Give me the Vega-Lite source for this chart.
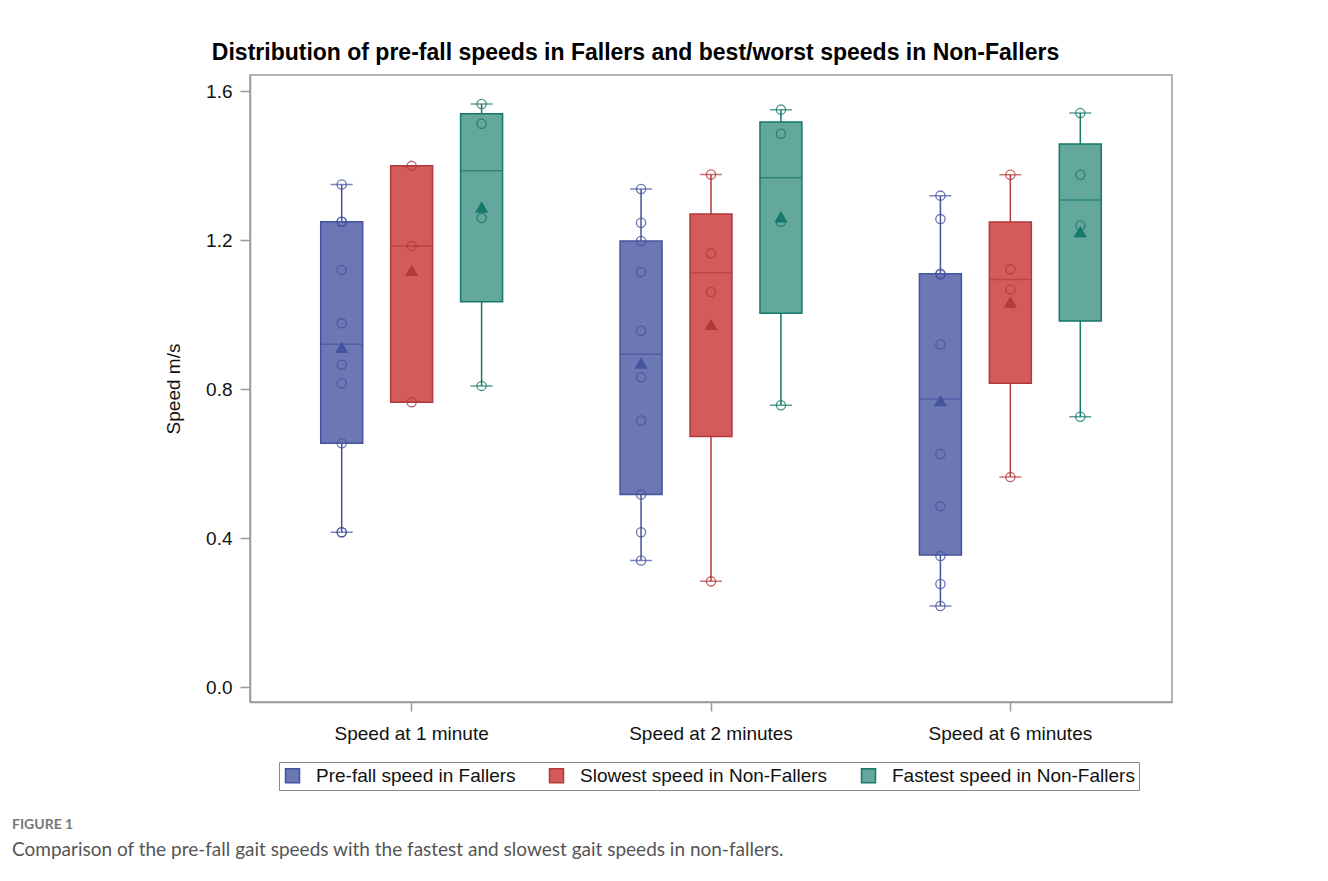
{
  "$schema": "https://vega.github.io/schema/vega-lite/v6.json",
  "width": 922,
  "height": 627,
  "autosize": {"type": "none"},
  "padding": {"left": 250, "top": 75, "right": 156, "bottom": 179},
  "background": "white",
  "title": {
    "text": "FIGURE 1",
    "subtitle": "Comparison of the pre-fall gait speeds with the fastest and slowest gait speeds in non-fallers.",
    "orient": "bottom",
    "anchor": "start",
    "frame": "group",
    "dx": -238,
    "offset": 27,
    "font": "Lato",
    "fontSize": 14,
    "fontWeight": "bold",
    "color": "#777777",
    "subtitleFont": "Lato",
    "subtitleFontSize": 19,
    "subtitleColor": "#555555",
    "subtitlePadding": 9
  },
  "datasets": {
    "boxes": [
      {"time": "Speed at 1 minute", "group": "Pre-fall speed in Fallers", "min": 0.416, "q1": 0.655, "median": 0.921, "q3": 1.25, "max": 1.35, "mean": 0.91},
      {"time": "Speed at 1 minute", "group": "Slowest speed in Non-Fallers", "min": 0.765, "q1": 0.765, "median": 1.185, "q3": 1.4, "max": 1.4, "mean": 1.117},
      {"time": "Speed at 1 minute", "group": "Fastest speed in Non-Fallers", "min": 0.809, "q1": 1.035, "median": 1.387, "q3": 1.54, "max": 1.566, "mean": 1.287},
      {"time": "Speed at 2 minutes", "group": "Pre-fall speed in Fallers", "min": 0.34, "q1": 0.517, "median": 0.894, "q3": 1.198, "max": 1.338, "mean": 0.868},
      {"time": "Speed at 2 minutes", "group": "Slowest speed in Non-Fallers", "min": 0.284, "q1": 0.673, "median": 1.113, "q3": 1.271, "max": 1.377, "mean": 0.972},
      {"time": "Speed at 2 minutes", "group": "Fastest speed in Non-Fallers", "min": 0.757, "q1": 1.004, "median": 1.368, "q3": 1.518, "max": 1.551, "mean": 1.261},
      {"time": "Speed at 6 minutes", "group": "Pre-fall speed in Fallers", "min": 0.218, "q1": 0.355, "median": 0.774, "q3": 1.11, "max": 1.32, "mean": 0.767},
      {"time": "Speed at 6 minutes", "group": "Slowest speed in Non-Fallers", "min": 0.564, "q1": 0.816, "median": 1.095, "q3": 1.249, "max": 1.376, "mean": 1.032},
      {"time": "Speed at 6 minutes", "group": "Fastest speed in Non-Fallers", "min": 0.726, "q1": 0.983, "median": 1.308, "q3": 1.459, "max": 1.542, "mean": 1.221}
    ],
    "obs": [
      {"time": "Speed at 1 minute", "group": "Pre-fall speed in Fallers", "speed": 1.35},
      {"time": "Speed at 1 minute", "group": "Pre-fall speed in Fallers", "speed": 1.25},
      {"time": "Speed at 1 minute", "group": "Pre-fall speed in Fallers", "speed": 1.25},
      {"time": "Speed at 1 minute", "group": "Pre-fall speed in Fallers", "speed": 1.12},
      {"time": "Speed at 1 minute", "group": "Pre-fall speed in Fallers", "speed": 0.977},
      {"time": "Speed at 1 minute", "group": "Pre-fall speed in Fallers", "speed": 0.866},
      {"time": "Speed at 1 minute", "group": "Pre-fall speed in Fallers", "speed": 0.816},
      {"time": "Speed at 1 minute", "group": "Pre-fall speed in Fallers", "speed": 0.655},
      {"time": "Speed at 1 minute", "group": "Pre-fall speed in Fallers", "speed": 0.416},
      {"time": "Speed at 1 minute", "group": "Pre-fall speed in Fallers", "speed": 0.416},
      {"time": "Speed at 1 minute", "group": "Slowest speed in Non-Fallers", "speed": 1.4},
      {"time": "Speed at 1 minute", "group": "Slowest speed in Non-Fallers", "speed": 1.185},
      {"time": "Speed at 1 minute", "group": "Slowest speed in Non-Fallers", "speed": 0.765},
      {"time": "Speed at 1 minute", "group": "Fastest speed in Non-Fallers", "speed": 1.566},
      {"time": "Speed at 1 minute", "group": "Fastest speed in Non-Fallers", "speed": 1.513},
      {"time": "Speed at 1 minute", "group": "Fastest speed in Non-Fallers", "speed": 1.26},
      {"time": "Speed at 1 minute", "group": "Fastest speed in Non-Fallers", "speed": 0.809},
      {"time": "Speed at 2 minutes", "group": "Pre-fall speed in Fallers", "speed": 1.338},
      {"time": "Speed at 2 minutes", "group": "Pre-fall speed in Fallers", "speed": 1.247},
      {"time": "Speed at 2 minutes", "group": "Pre-fall speed in Fallers", "speed": 1.198},
      {"time": "Speed at 2 minutes", "group": "Pre-fall speed in Fallers", "speed": 1.115},
      {"time": "Speed at 2 minutes", "group": "Pre-fall speed in Fallers", "speed": 0.957},
      {"time": "Speed at 2 minutes", "group": "Pre-fall speed in Fallers", "speed": 0.832},
      {"time": "Speed at 2 minutes", "group": "Pre-fall speed in Fallers", "speed": 0.716},
      {"time": "Speed at 2 minutes", "group": "Pre-fall speed in Fallers", "speed": 0.517},
      {"time": "Speed at 2 minutes", "group": "Pre-fall speed in Fallers", "speed": 0.416},
      {"time": "Speed at 2 minutes", "group": "Pre-fall speed in Fallers", "speed": 0.34},
      {"time": "Speed at 2 minutes", "group": "Slowest speed in Non-Fallers", "speed": 1.377},
      {"time": "Speed at 2 minutes", "group": "Slowest speed in Non-Fallers", "speed": 1.165},
      {"time": "Speed at 2 minutes", "group": "Slowest speed in Non-Fallers", "speed": 1.061},
      {"time": "Speed at 2 minutes", "group": "Slowest speed in Non-Fallers", "speed": 0.284},
      {"time": "Speed at 2 minutes", "group": "Fastest speed in Non-Fallers", "speed": 1.551},
      {"time": "Speed at 2 minutes", "group": "Fastest speed in Non-Fallers", "speed": 1.486},
      {"time": "Speed at 2 minutes", "group": "Fastest speed in Non-Fallers", "speed": 1.25},
      {"time": "Speed at 2 minutes", "group": "Fastest speed in Non-Fallers", "speed": 0.757},
      {"time": "Speed at 6 minutes", "group": "Pre-fall speed in Fallers", "speed": 1.32},
      {"time": "Speed at 6 minutes", "group": "Pre-fall speed in Fallers", "speed": 1.257},
      {"time": "Speed at 6 minutes", "group": "Pre-fall speed in Fallers", "speed": 1.11},
      {"time": "Speed at 6 minutes", "group": "Pre-fall speed in Fallers", "speed": 1.108},
      {"time": "Speed at 6 minutes", "group": "Pre-fall speed in Fallers", "speed": 0.92},
      {"time": "Speed at 6 minutes", "group": "Pre-fall speed in Fallers", "speed": 0.626},
      {"time": "Speed at 6 minutes", "group": "Pre-fall speed in Fallers", "speed": 0.486},
      {"time": "Speed at 6 minutes", "group": "Pre-fall speed in Fallers", "speed": 0.352},
      {"time": "Speed at 6 minutes", "group": "Pre-fall speed in Fallers", "speed": 0.277},
      {"time": "Speed at 6 minutes", "group": "Pre-fall speed in Fallers", "speed": 0.218},
      {"time": "Speed at 6 minutes", "group": "Slowest speed in Non-Fallers", "speed": 1.376},
      {"time": "Speed at 6 minutes", "group": "Slowest speed in Non-Fallers", "speed": 1.122},
      {"time": "Speed at 6 minutes", "group": "Slowest speed in Non-Fallers", "speed": 1.068},
      {"time": "Speed at 6 minutes", "group": "Slowest speed in Non-Fallers", "speed": 0.564},
      {"time": "Speed at 6 minutes", "group": "Fastest speed in Non-Fallers", "speed": 1.542},
      {"time": "Speed at 6 minutes", "group": "Fastest speed in Non-Fallers", "speed": 1.376},
      {"time": "Speed at 6 minutes", "group": "Fastest speed in Non-Fallers", "speed": 1.24},
      {"time": "Speed at 6 minutes", "group": "Fastest speed in Non-Fallers", "speed": 0.726}
    ]
  },
  "config": {
    "font": "Liberation Sans",
    "view": {"stroke": "#9a9a9a", "strokeWidth": 1.5},
    "axis": {
      "grid": false,
      "domainColor": "#9a9a9a",
      "domainWidth": 1.5,
      "tickColor": "#9a9a9a",
      "tickWidth": 1.5,
      "labelColor": "#111111",
      "titleColor": "#111111",
      "labelFontSize": 19
    },
    "legend": {
      "orient": "none",
      "legendX": 29,
      "legendY": 687,
      "direction": "horizontal",
      "strokeColor": "#888888",
      "padding": 4,
      "symbolType": "square",
      "symbolSize": 196,
      "symbolStrokeWidth": 1.5,
      "symbolOpacity": 1,
      "labelFontSize": 19,
      "labelColor": "#111111",
      "columnPadding": 30,
      "labelOffset": 14,
      "labelLimit": 400
    }
  },
  "resolve": {"axis": {"x": "independent"}},
  "layer": [
    {
      "data": {"name": "boxes"},
      "mark": {"type": "rule", "strokeWidth": 1.5},
      "encoding": {
        "x": {"field": "time", "type": "nominal", "sort": ["Speed at 1 minute", "Speed at 2 minutes", "Speed at 6 minutes"], "scale": {"paddingInner": 0, "paddingOuter": 0.04}, "axis": {"orient": "bottom", "title": null, "labelAngle": 0, "tickSize": 9, "labelPadding": 13}},
        "xOffset": {"field": "group", "type": "nominal", "scale": {"domain": ["Pre-fall speed in Fallers", "Slowest speed in Non-Fallers", "Fastest speed in Non-Fallers"], "paddingInner": 0.4, "paddingOuter": 0.84}},
        "y": {"field": "min", "type": "quantitative", "title": "Speed m/s", "scale": {"domain": [-0.04, 1.644], "nice": false, "zero": false}, "axis": {"values": [0, 0.4, 0.8, 1.2, 1.6], "format": ".1f", "tickSize": 10, "labelPadding": 8, "titleFontSize": 19, "titleFontWeight": "normal", "titlePadding": 22}},
        "y2": {"field": "max"},
        "stroke": {"field": "group", "type": "nominal", "title": null, "scale": {"domain": ["Pre-fall speed in Fallers", "Slowest speed in Non-Fallers", "Fastest speed in Non-Fallers"], "range": ["#44539f", "#b23a3a", "#15786a"]}}
      }
    },
    {
      "data": {"name": "boxes"},
      "mark": {"type": "bar", "strokeWidth": 1.5},
      "encoding": {
        "x": {"field": "time", "type": "nominal", "sort": ["Speed at 1 minute", "Speed at 2 minutes", "Speed at 6 minutes"], "axis": {"orient": "top", "labels": false, "ticks": false, "domain": false, "title": "Distribution of pre-fall speeds in Fallers and best/worst speeds in Non-Fallers", "titleFontSize": 23, "titleFontWeight": "bold", "titleColor": "#000000", "titleX": 385, "titleY": -23, "titleAlign": "center", "titleBaseline": "middle"}},
        "xOffset": {"field": "group", "type": "nominal"},
        "y": {"field": "q1", "type": "quantitative", "title": "Speed m/s"},
        "y2": {"field": "q3"},
        "fill": {"field": "group", "type": "nominal", "title": null, "scale": {"domain": ["Pre-fall speed in Fallers", "Slowest speed in Non-Fallers", "Fastest speed in Non-Fallers"], "range": ["#6b78b4", "#d45b5b", "#63a79d"]}},
        "stroke": {"field": "group", "type": "nominal", "title": null}
      }
    },
    {
      "data": {"name": "boxes"},
      "mark": {"type": "tick", "size": 42, "thickness": 0, "filled": false, "strokeWidth": 1.5},
      "encoding": {
        "x": {"field": "time", "type": "nominal", "sort": ["Speed at 1 minute", "Speed at 2 minutes", "Speed at 6 minutes"], "axis": null},
        "xOffset": {"field": "group", "type": "nominal"},
        "y": {"field": "median", "type": "quantitative", "title": "Speed m/s"},
        "stroke": {"field": "group", "type": "nominal", "title": null}
      }
    },
    {
      "data": {"name": "boxes"},
      "mark": {"type": "tick", "size": 22, "thickness": 0, "filled": false, "strokeWidth": 1.5},
      "encoding": {
        "x": {"field": "time", "type": "nominal", "sort": ["Speed at 1 minute", "Speed at 2 minutes", "Speed at 6 minutes"], "axis": null},
        "xOffset": {"field": "group", "type": "nominal"},
        "y": {"field": "min", "type": "quantitative", "title": "Speed m/s"},
        "stroke": {"field": "group", "type": "nominal", "title": null}
      }
    },
    {
      "data": {"name": "boxes"},
      "mark": {"type": "tick", "size": 22, "thickness": 0, "filled": false, "strokeWidth": 1.5},
      "encoding": {
        "x": {"field": "time", "type": "nominal", "sort": ["Speed at 1 minute", "Speed at 2 minutes", "Speed at 6 minutes"], "axis": null},
        "xOffset": {"field": "group", "type": "nominal"},
        "y": {"field": "max", "type": "quantitative", "title": "Speed m/s"},
        "stroke": {"field": "group", "type": "nominal", "title": null}
      }
    },
    {
      "data": {"name": "obs"},
      "mark": {"type": "point", "shape": "circle", "filled": false, "size": 85, "strokeWidth": 1.3, "opacity": 0.8},
      "encoding": {
        "x": {"field": "time", "type": "nominal", "sort": ["Speed at 1 minute", "Speed at 2 minutes", "Speed at 6 minutes"], "axis": null},
        "xOffset": {"field": "group", "type": "nominal"},
        "y": {"field": "speed", "type": "quantitative", "title": "Speed m/s"},
        "stroke": {"field": "group", "type": "nominal", "title": null}
      }
    },
    {
      "data": {"name": "boxes"},
      "mark": {"type": "point", "shape": "triangle-up", "filled": false, "size": 50, "strokeWidth": 3.5, "strokeJoin": "miter", "opacity": 1},
      "encoding": {
        "x": {"field": "time", "type": "nominal", "sort": ["Speed at 1 minute", "Speed at 2 minutes", "Speed at 6 minutes"], "axis": null},
        "xOffset": {"field": "group", "type": "nominal"},
        "y": {"field": "mean", "type": "quantitative", "title": "Speed m/s"},
        "stroke": {"field": "group", "type": "nominal", "title": null}
      }
    }
  ]
}
